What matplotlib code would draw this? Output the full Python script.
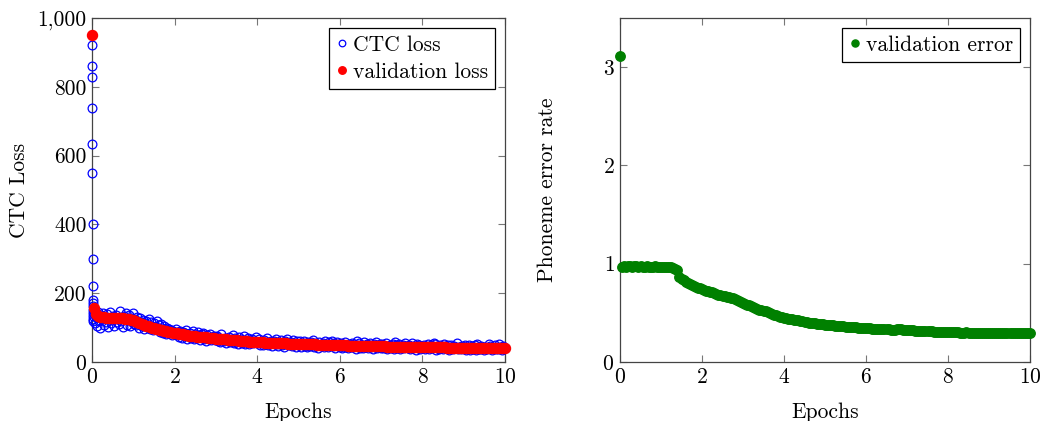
import numpy as np
import matplotlib
matplotlib.use("Agg")
import matplotlib.pyplot as plt

# ---------------- data ----------------
# CTC training loss: initial warm-up steps (very close to epoch 0)
ctc_head_epochs = [0.0, 0.002, 0.004, 0.006, 0.008, 0.010, 0.012, 0.014, 0.016,
                   0.018, 0.020, 0.022, 0.024, 0.026, 0.028, 0.030, 0.032, 0.034]
ctc_head_loss = [950, 922, 860, 828, 738, 635, 548, 402, 300,
                 220, 180, 172, 163, 150, 142, 135, 126, 118]
# CTC training loss afterwards, one value per logged step (40 per epoch)
ctc_loss = [
    140, 112, 131, 105, 146, 120, 98, 136, 125, 142, 108, 130, 117, 139, 102, 127, 144, 113, 121, 134,
    106, 128, 138, 115, 124, 110, 149, 119, 101, 133, 126, 141, 109, 122, 137, 104, 129, 116, 143, 111,
    125, 108, 131, 112, 99, 127, 116, 104, 121, 95, 113, 119, 101, 109, 124, 97, 115, 106, 92, 112,
    103, 118, 96, 107, 88, 110, 99, 85, 104, 93, 81, 100, 90, 97, 84, 94, 79, 91, 86, 83,
    95, 78, 88, 72, 91, 80, 70, 86, 76, 83, 93, 68, 79, 85, 71, 77, 90, 66, 82, 74,
    69, 87, 78, 65, 73, 80, 84, 68, 75, 62, 79, 71, 67, 81, 64, 74, 70, 77, 63, 72,
    76, 62, 71, 58, 80, 65, 60, 70, 55, 67, 63, 74, 57, 66, 61, 78, 54, 69, 59, 64,
    52, 72, 62, 68, 56, 60, 75, 53, 65, 58, 70, 51, 63, 57, 67, 55, 61, 73, 54, 59,
    66, 50, 61, 55, 48, 63, 57, 52, 70, 49, 58, 54, 62, 46, 56, 60, 51, 68, 53, 47,
    59, 55, 64, 50, 57, 45, 61, 52, 66, 49, 55, 58, 47, 63, 51, 56, 44, 60, 53, 50,
    60, 45, 55, 50, 62, 47, 53, 43, 57, 51, 46, 58, 49, 64, 44, 54, 48, 52, 42, 59,
    50, 47, 56, 45, 61, 49, 53, 43, 57, 48, 51, 62, 46, 54, 41, 50, 58, 47, 52, 45,
    55, 42, 50, 46, 58, 44, 49, 40, 53, 47, 43, 56, 45, 51, 39, 60, 48, 54, 42, 46,
    50, 41, 57, 44, 47, 52, 40, 49, 55, 43, 46, 38, 51, 45, 59, 42, 48, 44, 53, 41,
    52, 40, 47, 43, 55, 38, 46, 50, 41, 44, 53, 39, 58, 48, 42, 45, 51, 37, 46, 43,
    49, 40, 56, 47, 44, 42, 50, 38, 45, 54, 41, 47, 43, 36, 52, 44, 48, 39, 46, 42,
    50, 38, 45, 41, 52, 37, 44, 48, 40, 43, 56, 51, 36, 46, 42, 39, 49, 41, 45, 37,
    53, 47, 43, 40, 48, 35, 44, 50, 41, 38, 46, 42, 54, 39, 45, 43, 37, 47, 41, 44,
    48, 36, 43, 40, 50, 35, 42, 46, 38, 41, 49, 34, 53, 44, 39, 37, 47, 40, 43, 35,
    45, 41, 38, 51, 46, 40, 36, 44, 42, 48, 37, 45, 39, 52, 41, 43, 35, 46, 40, 42,
]
ctc_epochs = np.linspace(0.04, 10.0, len(ctc_loss))

# validation loss, evaluated every 0.05 epoch
val_loss = [
    950, 158, 140, 133, 131,
    130, 130, 129, 129, 129, 128, 128, 128, 127, 127, 127, 126, 126,
    125, 123, 121, 119, 116, 113, 110, 108, 106, 104, 102, 100, 98, 96, 95, 93, 92, 90, 89, 88, 86, 85, 84,
    83, 82, 81, 80, 79, 78, 77, 76.5, 76, 75, 74, 73.5, 73, 72, 71.5, 71, 70, 69.5, 69, 68,
    67.5, 67, 66.5, 66, 65.5, 65, 64.5, 64, 63.5, 63, 62, 61.5, 61, 60.5, 60, 59.5, 59, 58.5, 58, 57.5,
    57.2, 57, 56.7, 56.5, 56.2, 56, 55.7, 55.5, 55.2, 55, 54.7, 54.5, 54.2, 54, 53.7, 53.5, 53.2, 53, 52.7, 52.5,
    52.3, 52.1, 51.9, 51.7, 51.5, 51.3, 51.1, 50.9, 50.7, 50.5, 50.3, 50.1, 49.9, 49.7, 49.5, 49.3, 49.1, 48.9, 48.7, 48.5,
    48.3, 48.1, 48, 47.8, 47.6, 47.5, 47.3, 47.1, 47, 46.8, 46.6, 46.5, 46.3, 46.2, 46, 45.9, 45.7, 45.6, 45.4, 45.3,
    45.2, 45.1, 45, 44.9, 44.8, 44.7, 44.6, 44.5, 44.4, 44.3, 44.2, 44.1, 44, 43.9, 43.8, 43.7, 43.6, 43.5, 43.4, 43.3,
    43.2, 43.1, 43, 42.9, 42.8, 42.7, 42.6, 42.5, 42.4, 42.3, 42.2, 42.1, 42, 41.9, 41.8, 41.7, 41.6, 41.5, 41.4, 41.3,
    41.2, 41.1, 41, 40.9, 40.8, 40.7, 40.6, 40.5, 40.4, 40.3, 40.2, 40.1, 40, 39.9, 39.8, 39.7, 39.6, 39.5, 39.4, 39.3,
]
val_epochs = np.linspace(0, 10, len(val_loss))

# validation phoneme error rate, every 0.05 epoch
val_error = [
    3.11,
    0.97, 0.975, 0.97, 0.975, 0.975, 0.97, 0.975, 0.975, 0.97, 0.975, 0.97, 0.97, 0.975,
    0.97, 0.97, 0.97, 0.975, 0.97, 0.97, 0.97, 0.97, 0.965, 0.97, 0.965, 0.965, 0.96,
    0.95, 0.94, 0.86, 0.84, 0.83, 0.81, 0.80, 0.79, 0.78, 0.77, 0.76, 0.755, 0.75, 0.74,
    0.73, 0.725, 0.72, 0.71, 0.71, 0.70, 0.69, 0.685, 0.68, 0.675, 0.67, 0.665, 0.66, 0.655, 0.65, 0.64, 0.635, 0.625, 0.615, 0.605,
    0.595, 0.585, 0.575, 0.565, 0.555, 0.545, 0.535, 0.53, 0.525, 0.52, 0.515, 0.51, 0.50, 0.49, 0.48, 0.475, 0.47, 0.46, 0.455, 0.45,
    0.445, 0.44, 0.44, 0.435, 0.43, 0.43, 0.425, 0.42, 0.415, 0.41, 0.405, 0.40, 0.40, 0.395, 0.395, 0.39, 0.39, 0.385, 0.385, 0.38,
    0.38, 0.38, 0.375, 0.375, 0.37, 0.37, 0.37, 0.365, 0.365, 0.36, 0.36, 0.36, 0.355, 0.355, 0.355, 0.35, 0.35, 0.35, 0.35, 0.345,
    0.345, 0.345, 0.34, 0.34, 0.34, 0.34, 0.34, 0.335, 0.335, 0.335, 0.335, 0.33, 0.33, 0.33, 0.335, 0.34, 0.335, 0.33, 0.33, 0.33,
    0.325, 0.325, 0.325, 0.32, 0.32, 0.32, 0.32, 0.32, 0.315, 0.315, 0.315, 0.315, 0.31, 0.31, 0.31, 0.31, 0.31, 0.31, 0.31, 0.305,
    0.305, 0.305, 0.31, 0.305, 0.305, 0.30, 0.30, 0.30, 0.305, 0.30, 0.30, 0.30, 0.30, 0.30, 0.30, 0.295, 0.30, 0.30, 0.30, 0.295,
    0.295, 0.295, 0.30, 0.295, 0.295, 0.29, 0.29, 0.29, 0.295, 0.29, 0.29, 0.29, 0.29, 0.29, 0.29, 0.29, 0.29, 0.29, 0.29, 0.29,
]
err_epochs = np.linspace(0, 10, len(val_error))

x_ticks = [0, 2, 4, 6, 8, 10]
left_y_ticks = [0, 200, 400, 600, 800, 1000]
left_y_labels = ["0", "200", "400", "600", "800", "1,000"]
right_y_ticks = [0, 1, 2, 3]

# ---------------- style ----------------
plt.rcParams['font.family'] = ['cmr10', 'DejaVu Serif']
plt.rcParams['axes.formatter.use_mathtext'] = True
FS = 15.5
plt.rcParams['font.size'] = FS

W, H = 1043, 421
fig = plt.figure(figsize=(W / 100, H / 100), dpi=100)

def px_axes(x0, x1, y0, y1):
    return fig.add_axes([x0 / W, 1 - y1 / H, (x1 - x0) / W, (y1 - y0) / H])

ax1 = px_axes(92, 505, 18, 362)
ax2 = px_axes(620, 1030, 18, 362)

def style(ax):
    for s in ax.spines.values():
        s.set_color('#444444')
        s.set_linewidth(0.9)
    ax.tick_params(direction='in', top=True, right=True, length=5,
                   width=0.8, color='#777777', labelsize=FS, pad=4)

def legend(ax):
    leg = ax.legend(loc='upper right', frameon=True, fancybox=False, edgecolor='black',
                    framealpha=1, handlelength=0.5, handletextpad=0.25, borderpad=0.35,
                    labelspacing=0.35, borderaxespad=0.45, fontsize=FS, markerscale=0.75)
    leg.get_frame().set_linewidth(0.9)

# left panel
ax1.plot(list(ctc_head_epochs) + list(ctc_epochs), list(ctc_head_loss) + list(ctc_loss),
         linestyle='none', marker='o', markersize=6.3, markerfacecolor='none',
         markeredgecolor='blue', markeredgewidth=0.9, label='CTC loss', clip_on=False, zorder=3)
ax1.plot(val_epochs, val_loss, linestyle='none', marker='o', markersize=7.2,
         color='red', markeredgecolor='red', label='validation loss', clip_on=False, zorder=4)
ax1.set_xlim(0, 10)
ax1.set_ylim(0, 1000)
ax1.set_xticks(x_ticks)
ax1.set_yticks(left_y_ticks)
ax1.set_yticklabels(left_y_labels)
ax1.set_xlabel('Epochs', labelpad=11)
ax1.set_ylabel('CTC Loss', labelpad=6)
style(ax1)
legend(ax1)

# right panel
ax2.plot(err_epochs, val_error, linestyle='none', marker='o', markersize=6.8,
         color='green', markeredgecolor='green', label='validation error', clip_on=False, zorder=3)
ax2.set_xlim(0, 10)
ax2.set_ylim(0, 3.5)
ax2.set_xticks(x_ticks)
ax2.set_yticks(right_y_ticks)
ax2.set_xlabel('Epochs', labelpad=11)
ax2.set_ylabel('Phoneme error rate', labelpad=33)
style(ax2)
legend(ax2)

fig.savefig('out.png', dpi=100)
